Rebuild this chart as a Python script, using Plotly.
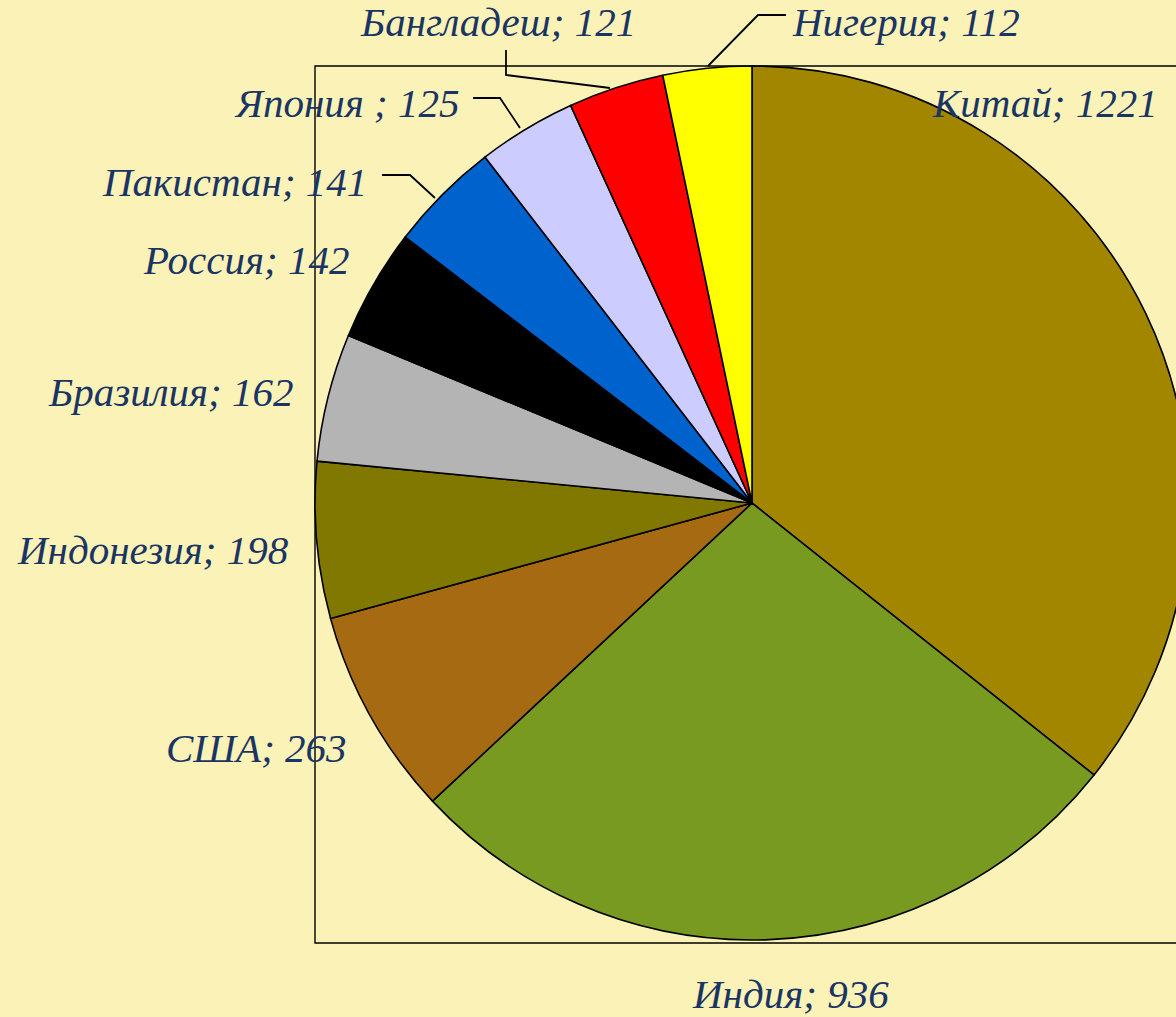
import plotly.graph_objects as go

# ---- data ----
countries = ["Китай", "Индия", "США", "Индонезия", "Бразилия",
             "Россия", "Пакистан", "Япония ", "Бангладеш", "Нигерия"]
population = [1221, 936, 263, 198, 162, 142, 141, 125, 121, 112]
colors = ["#A38600", "#789A20", "#A66A13", "#807800", "#B4B4B4",
          "#000000", "#0062CC", "#CCCCFF", "#FF0000", "#FFFF00"]

# ---- layout helpers (pixel positions of the label centres) ----
W, H = 1190, 1017   # page is 1176 wide; the pie runs slightly past the right edge
label_pos = [(1045, 103), (790, 994), (256, 748), (153, 550), (171, 392),
             (246, 260), (234, 182), (347, 103), (498, 22), (906, 22)]
leaders = [
    [(506, 50), (506, 75), (610, 88)],          # Бангладеш
    [(786, 15), (758, 15), (708, 66)],          # Нигерия
    [(473, 98), (500, 98), (520, 128)],         # Япония
    [(382, 175), (410, 175), (435, 198)],       # Пакистан
]


def px(x):
    return x / W


def py(y):
    return 1 - y / H


fig = go.Figure(go.Pie(
    labels=countries,
    values=population,
    sort=False,
    direction="clockwise",
    rotation=0,
    marker=dict(colors=colors, line=dict(color="#000000", width=1.6)),
    textinfo="none",
    hoverinfo="label+value",
    showlegend=False,
    domain=dict(x=[px(315), px(1189)], y=[py(940), py(66)]),
))

annotations = []
for name, val, (x, y) in zip(countries, population, label_pos):
    annotations.append(dict(
        x=px(x), y=py(y), xref="paper", yref="paper",
        text=f"{name}; {val}", showarrow=False,
        xanchor="center", yanchor="middle",
        font=dict(family="Liberation Serif", size=41, color="#1A3563", style="italic"),
    ))

shapes = [dict(type="rect", xref="paper", yref="paper",
               x0=px(315), x1=px(1195), y0=py(943), y1=py(66),
               line=dict(color="#000000", width=1.4), layer="below")]
for pts in leaders:
    path = "M " + " L ".join(f"{px(x)},{py(y)}" for x, y in pts)
    shapes.append(dict(type="path", xref="paper", yref="paper", path=path,
                       line=dict(color="#000000", width=1.8)))

fig.update_layout(
    width=W, height=H,
    margin=dict(l=0, r=0, t=0, b=0),
    paper_bgcolor="#FAF2B6",
    plot_bgcolor="#FAF2B6",
    annotations=annotations,
    shapes=shapes,
)

fig.write_html(
    "out.html",
    config={"displayModeBar": False},
    post_script="document.body.style.margin='0';document.body.style.overflow='hidden';"
                "document.body.style.background='#FAF2B6';",
)
